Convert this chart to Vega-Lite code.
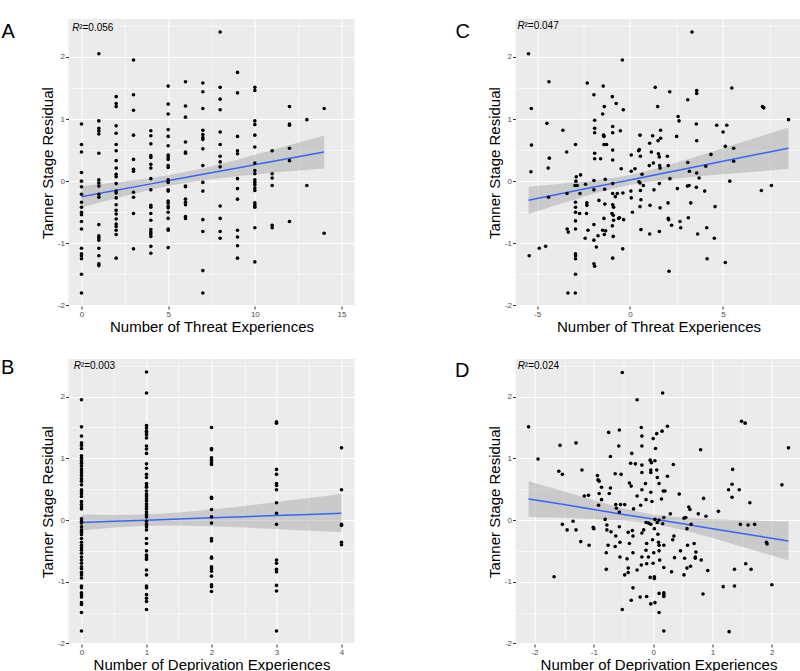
{
"$schema":"https://vega.github.io/schema/vega-lite/v6.json",
"padding":{"left":0.5,"top":19,"right":0,"bottom":0},
"background":"white",
"config":{"font":"Liberation Sans","view":{"fill":"#EBEBEB","stroke":null},
"axis":{"labelFontSize":8,"labelColor":"#4D4D4D","tickColor":"#333333","tickSize":3,"domain":false,"gridColor":"white","gridWidth":1.1,"titleFontSize":15,"titleFontWeight":"normal","titleColor":"black","labelPadding":1,"gridOpacity":1},
"circle":{"size":13,"color":"black","opacity":1}},
"columns":2,
"spacing":{"row":53,"column":161},
"bounds":"flush",
"datasets":{
"ptsA":[
{"x":0,"y":0.92},{"x":0,"y":0.59},{"x":0,"y":0.47},{"x":0,"y":0.14},{"x":0,"y":0.0},{"x":0,"y":-0.09},{"x":0,"y":-0.21},{"x":0,"y":-0.34},{"x":0,"y":-0.42},{"x":0,"y":-0.5},{"x":0,"y":-0.54},{"x":0,"y":-0.65},{"x":0,"y":-0.77},{"x":0,"y":-1.08},{"x":0,"y":-1.17},{"x":0,"y":-1.2},{"x":0,"y":-1.25},{"x":0,"y":-1.5},{"x":0,"y":-1.8},
{"x":1,"y":2.05},{"x":1,"y":0.97},{"x":1,"y":0.85},{"x":1,"y":0.81},{"x":1,"y":0.76},{"x":1,"y":0.45},{"x":1,"y":0.02},{"x":1,"y":-0.03},{"x":1,"y":-0.08},{"x":1,"y":-0.21},{"x":1,"y":-0.26},{"x":1,"y":-0.7},{"x":1,"y":-0.88},{"x":1,"y":-0.91},{"x":1,"y":-0.95},{"x":1,"y":-1.08},{"x":1,"y":-1.2},{"x":1,"y":-1.33},{"x":1,"y":-1.36},
{"x":2,"y":1.36},{"x":2,"y":1.25},{"x":2,"y":1.2},{"x":2,"y":0.89},{"x":2,"y":0.77},{"x":2,"y":0.59},{"x":2,"y":0.49},{"x":2,"y":0.33},{"x":2,"y":0.21},{"x":2,"y":0.11},{"x":2,"y":0.07},{"x":2,"y":-0.04},{"x":2,"y":-0.16},{"x":2,"y":-0.19},{"x":2,"y":-0.27},{"x":2,"y":-0.38},{"x":2,"y":-0.47},{"x":2,"y":-0.53},{"x":2,"y":-0.61},{"x":2,"y":-0.69},{"x":2,"y":-0.73},{"x":2,"y":-0.79},{"x":2,"y":-0.86},{"x":2,"y":-1.24},
{"x":3,"y":1.95},{"x":3,"y":1.39},{"x":3,"y":1.14},{"x":3,"y":0.74},{"x":3,"y":0.35},{"x":3,"y":0.19},{"x":3,"y":0.16},{"x":3,"y":-0.18},{"x":3,"y":-0.26},{"x":3,"y":-0.52},{"x":3,"y":-1.09},
{"x":4,"y":0.81},{"x":4,"y":0.73},{"x":4,"y":0.6},{"x":4,"y":0.41},{"x":4,"y":0.38},{"x":4,"y":0.27},{"x":4,"y":0.21},{"x":4,"y":0.04},{"x":4,"y":-0.14},{"x":4,"y":-0.39},{"x":4,"y":-0.42},{"x":4,"y":-0.52},{"x":4,"y":-0.63},{"x":4,"y":-0.78},{"x":4,"y":-0.82},{"x":4,"y":-0.85},{"x":4,"y":-0.89},{"x":4,"y":-1.05},{"x":4,"y":-1.16},
{"x":5,"y":1.53},{"x":5,"y":1.24},{"x":5,"y":1.08},{"x":5,"y":0.83},{"x":5,"y":0.72},{"x":5,"y":0.57},{"x":5,"y":0.42},{"x":5,"y":0.39},{"x":5,"y":0.35},{"x":5,"y":0.25},{"x":5,"y":0.22},{"x":5,"y":0.02},{"x":5,"y":-0.02},{"x":5,"y":-0.14},{"x":5,"y":-0.16},{"x":5,"y":-0.32},{"x":5,"y":-0.35},{"x":5,"y":-0.4},{"x":5,"y":-0.43},{"x":5,"y":-0.5},{"x":5,"y":-0.6},{"x":5,"y":-0.77},{"x":5,"y":-0.79},{"x":5,"y":-1.07},
{"x":6,"y":1.6},{"x":6,"y":1.21},{"x":6,"y":1.03},{"x":6,"y":0.63},{"x":6,"y":0.47},{"x":6,"y":0.45},{"x":6,"y":-0.08},{"x":6,"y":-0.09},{"x":6,"y":-0.29},{"x":6,"y":-0.34},{"x":6,"y":-0.38},{"x":6,"y":-0.57},{"x":6,"y":-0.6},
{"x":7,"y":1.58},{"x":7,"y":1.44},{"x":7,"y":1.17},{"x":7,"y":0.82},{"x":7,"y":0.75},{"x":7,"y":0.7},{"x":7,"y":0.67},{"x":7,"y":0.52},{"x":7,"y":0.25},{"x":7,"y":-0.02},{"x":7,"y":-0.16},{"x":7,"y":-0.62},{"x":7,"y":-0.81},{"x":7,"y":-1.44},{"x":7,"y":-1.8},
{"x":8,"y":2.4},{"x":8,"y":1.51},{"x":8,"y":1.32},{"x":8,"y":1.15},{"x":8,"y":0.79},{"x":8,"y":0.59},{"x":8,"y":0.4},{"x":8,"y":0.31},{"x":8,"y":0.23},{"x":8,"y":-0.4},{"x":8,"y":-0.6},{"x":8,"y":-0.81},{"x":8,"y":-0.92},
{"x":9,"y":1.75},{"x":9,"y":1.42},{"x":9,"y":0.72},{"x":9,"y":0.49},{"x":9,"y":0.44},{"x":9,"y":0.04},{"x":9,"y":-0.12},{"x":9,"y":-0.29},{"x":9,"y":-0.79},{"x":9,"y":-0.9},{"x":9,"y":-1.04},{"x":9,"y":-1.24},
{"x":10,"y":1.51},{"x":10,"y":1.46},{"x":10,"y":0.97},{"x":10,"y":0.91},{"x":10,"y":0.74},{"x":10,"y":0.55},{"x":10,"y":0.29},{"x":10,"y":0.17},{"x":10,"y":0.12},{"x":10,"y":0.02},{"x":10,"y":-0.02},{"x":10,"y":-0.06},{"x":10,"y":-0.11},{"x":10,"y":-0.15},{"x":10,"y":-0.35},{"x":10,"y":-0.39},{"x":10,"y":-0.42},{"x":10,"y":-0.75},{"x":10,"y":-1.3},
{"x":11,"y":0.49},{"x":11,"y":0.12},{"x":11,"y":0.05},{"x":11,"y":-0.07},{"x":11,"y":-0.71},{"x":11,"y":-0.75},
{"x":12,"y":1.2},{"x":12,"y":0.92},{"x":12,"y":0.9},{"x":12,"y":0.53},{"x":12,"y":0.33},{"x":12,"y":-0.65},
{"x":13,"y":0.99},{"x":13,"y":-0.07},
{"x":14,"y":1.17},{"x":14,"y":-0.84}
],
"ribA":[{"x":0,"lo":-0.42,"hi":-0.08,"fit":-0.25},{"x":2,"lo":-0.275,"hi":-0.02,"fit":-0.147},{"x":4,"lo":-0.135,"hi":0.045,"fit":-0.044},{"x":5.2,"lo":-0.065,"hi":0.105,"fit":0.017},{"x":7,"lo":0.015,"hi":0.205,"fit":0.11},{"x":9,"lo":0.08,"hi":0.346,"fit":0.213},{"x":11,"lo":0.133,"hi":0.5,"fit":0.316},{"x":12.5,"lo":0.17,"hi":0.617,"fit":0.393},{"x":14,"lo":0.205,"hi":0.735,"fit":0.47}],
"ptsC":[
{"x":-5.46,"y":2.05},{"x":-5.31,"y":1.17},{"x":-5.3,"y":0.58},{"x":-5.33,"y":0.15},{"x":-5.42,"y":-1.2},{"x":-4.88,"y":-1.08},{"x":-4.54,"y":-1.05},{"x":-4.47,"y":0.93},{"x":-4.36,"y":1.6},{"x":-4.34,"y":0.37},{"x":-4.4,"y":0.21},{"x":-4.38,"y":-0.26},{"x":-3.61,"y":0.82},{"x":-3.41,"y":0.47},{"x":-3.39,"y":-0.2},{"x":-3.38,"y":-0.77},{"x":-3.32,"y":-0.82},{"x":-3.34,"y":-1.8},{"x":-2.94,"y":-1.8},{"x":-2.93,"y":0.59},{"x":-2.89,"y":0.07},{"x":-2.91,"y":0.0},{"x":-2.96,"y":-0.07},{"x":-2.84,"y":-0.07},{"x":-2.93,"y":-0.34},{"x":-2.93,"y":-0.42},{"x":-2.93,"y":-0.5},{"x":-2.93,"y":-0.64},{"x":-2.93,"y":-0.77},{"x":-2.93,"y":-1.17},{"x":-2.93,"y":-1.2},{"x":-2.93,"y":-1.25},{"x":-2.93,"y":-1.5},{"x":-2.66,"y":0.1},{"x":-2.69,"y":-0.2},{"x":-2.71,"y":-0.52},{"x":-2.39,"y":-0.05},{"x":-2.41,"y":-0.92},{"x":-2.32,"y":-0.35},{"x":-2.32,"y":-0.39},{"x":-2.34,"y":-0.52},{"x":-2.3,"y":1.58},{"x":-2.26,"y":-0.79},{"x":-1.94,"y":1.39},{"x":-1.9,"y":0.98},{"x":-1.9,"y":0.85},{"x":-1.9,"y":0.78},{"x":-1.9,"y":0.45},{"x":-1.9,"y":0.36},{"x":-1.94,"y":0.01},{"x":-1.94,"y":-0.14},{"x":-1.94,"y":-0.7},{"x":-1.94,"y":-0.95},{"x":-1.94,"y":-1.33},{"x":-1.9,"y":-1.37},{"x":-1.81,"y":-1.06},{"x":-1.72,"y":-0.88},{"x":-1.67,"y":-0.31},{"x":-1.58,"y":0.36},{"x":-1.47,"y":1.08},{"x":-1.44,"y":1.53},{"x":-1.42,"y":0.74},{"x":-1.4,"y":0.72},{"x":-1.38,"y":1.2},{"x":-1.4,"y":0.59},{"x":-1.26,"y":0.59},{"x":-1.33,"y":0.03},{"x":-1.36,"y":-0.13},{"x":-1.35,"y":-0.37},{"x":-1.4,"y":-0.6},{"x":-1.47,"y":-0.79},{"x":-1.31,"y":-0.8},{"x":-1.38,"y":-0.86},{"x":-0.95,"y":1.36},{"x":-0.93,"y":0.88},{"x":-0.93,"y":0.78},{"x":-0.93,"y":0.5},{"x":-0.93,"y":0.34},{"x":-0.93,"y":-0.04},{"x":-0.93,"y":-0.2},{"x":-0.93,"y":-0.38},{"x":-0.88,"y":-0.42},{"x":-0.97,"y":-0.52},{"x":-0.9,"y":-0.55},{"x":-0.88,"y":-0.63},{"x":-0.95,"y":-0.72},{"x":-0.9,"y":-0.89},{"x":-0.93,"y":-1.24},{"x":-0.74,"y":1.25},{"x":-0.68,"y":-0.2},{"x":-0.61,"y":-0.6},{"x":-0.56,"y":-0.59},{"x":-0.52,"y":0.81},{"x":-0.47,"y":0.2},{"x":-0.38,"y":-0.19},{"x":-0.41,"y":1.95},{"x":-0.36,"y":1.15},{"x":-0.34,"y":-0.62},{"x":-0.39,"y":-1.09},{"x":-0.79,"y":-0.25},{"x":0.07,"y":0.42},{"x":0.07,"y":0.16},{"x":0.05,"y":-0.16},{"x":0.07,"y":-0.27},{"x":0.13,"y":-0.5},{"x":0.27,"y":0.2},{"x":0.47,"y":0.49},{"x":0.5,"y":0.51},{"x":0.54,"y":0.74},{"x":0.56,"y":0.4},{"x":0.48,"y":-0.01},{"x":0.54,"y":-0.03},{"x":0.56,"y":-0.15},{"x":0.59,"y":-0.3},{"x":0.54,"y":-0.41},{"x":0.59,"y":-0.78},{"x":0.65,"y":0.11},{"x":0.72,"y":-0.07},{"x":1.06,"y":0.61},{"x":1.15,"y":0.47},{"x":1.04,"y":0.25},{"x":1.22,"y":0.73},{"x":1.26,"y":0.29},{"x":1.29,"y":-0.14},{"x":1.08,"y":-0.39},{"x":1.06,"y":-0.85},{"x":1.36,"y":1.51},{"x":1.49,"y":1.2},{"x":1.51,"y":0.65},{"x":1.53,"y":0.44},{"x":1.58,"y":0.39},{"x":1.6,"y":0.25},{"x":1.62,"y":0.21},{"x":1.65,"y":0.82},{"x":1.65,"y":0.69},{"x":1.58,"y":-0.04},{"x":1.62,"y":-0.43},{"x":1.58,"y":-0.81},{"x":2.01,"y":0.4},{"x":2.06,"y":0.25},{"x":2.05,"y":-0.35},{"x":2.06,"y":-0.6},{"x":2.08,"y":-0.62},{"x":2.1,"y":-1.45},{"x":2.14,"y":1.44},{"x":2.15,"y":0.04},{"x":2.24,"y":-0.71},{"x":2.51,"y":0.72},{"x":2.59,"y":1.04},{"x":2.64,"y":0.97},{"x":2.55,"y":-0.12},{"x":2.69,"y":-0.65},{"x":2.73,"y":-0.75},{"x":3.11,"y":1.31},{"x":3.11,"y":0.3},{"x":3.09,"y":-0.08},{"x":3.18,"y":-0.07},{"x":3.2,"y":0.16},{"x":3.14,"y":-0.59},{"x":3.27,"y":-0.35},{"x":3.34,"y":2.4},{"x":3.59,"y":1.46},{"x":3.59,"y":1.41},{"x":3.57,"y":0.92},{"x":3.59,"y":0.65},{"x":3.59,"y":0.13},{"x":3.57,"y":-0.1},{"x":3.64,"y":-0.85},{"x":3.72,"y":0.05},{"x":4.02,"y":-0.16},{"x":4.08,"y":0.24},{"x":4.36,"y":0.43},{"x":4.13,"y":-0.75},{"x":4.15,"y":-1.25},{"x":4.58,"y":-0.41},{"x":4.54,"y":-0.92},{"x":4.67,"y":0.9},{"x":5.01,"y":0.79},{"x":5.21,"y":0.9},{"x":5.13,"y":0.56},{"x":5.37,"y":0.0},{"x":5.13,"y":-1.31},{"x":5.48,"y":1.5},{"x":5.58,"y":0.53},{"x":5.58,"y":0.32},{"x":7.13,"y":1.2},{"x":7.2,"y":1.18},{"x":7.07,"y":-0.15},{"x":7.61,"y":-0.07},{"x":8.53,"y":0.99}
],
"ribC":[{"x":-5.46,"lo":-0.53,"hi":-0.09,"fit":-0.308},{"x":-4,"lo":-0.388,"hi":-0.052,"fit":-0.22},{"x":-2,"lo":-0.208,"hi":0.008,"fit":-0.1},{"x":-1,"lo":-0.127,"hi":0.047,"fit":-0.04},{"x":0,"lo":-0.06,"hi":0.1,"fit":0.02},{"x":1,"lo":-0.01,"hi":0.17,"fit":0.08},{"x":2,"lo":0.0275,"hi":0.2525,"fit":0.14},{"x":4,"lo":0.086,"hi":0.434,"fit":0.26},{"x":6,"lo":0.136,"hi":0.624,"fit":0.38},{"x":8.53,"lo":0.195,"hi":0.865,"fit":0.53}],
"ptsB":[
{"x":0,"y":1.95},{"x":0,"y":1.51},{"x":0,"y":1.36},{"x":0,"y":1.25},{"x":0,"y":1.21},{"x":0,"y":1.16},{"x":0,"y":1.04},{"x":0,"y":1.0},{"x":0,"y":0.96},{"x":0,"y":0.92},{"x":0,"y":0.88},{"x":0,"y":0.83},{"x":0,"y":0.8},{"x":0,"y":0.76},{"x":0,"y":0.72},{"x":0,"y":0.67},{"x":0,"y":0.63},{"x":0,"y":0.57},{"x":0,"y":0.49},{"x":0,"y":0.46},{"x":0,"y":0.42},{"x":0,"y":0.38},{"x":0,"y":0.3},{"x":0,"y":0.25},{"x":0,"y":0.21},{"x":0,"y":0.18},{"x":0,"y":0.02},{"x":0,"y":-0.02},{"x":0,"y":-0.05},{"x":0,"y":-0.11},{"x":0,"y":-0.16},{"x":0,"y":-0.2},{"x":0,"y":-0.24},{"x":0,"y":-0.3},{"x":0,"y":-0.36},{"x":0,"y":-0.41},{"x":0,"y":-0.45},{"x":0,"y":-0.49},{"x":0,"y":-0.54},{"x":0,"y":-0.6},{"x":0,"y":-0.65},{"x":0,"y":-0.7},{"x":0,"y":-0.76},{"x":0,"y":-0.79},{"x":0,"y":-0.85},{"x":0,"y":-0.89},{"x":0,"y":-0.94},{"x":0,"y":-1.07},{"x":0,"y":-1.1},{"x":0,"y":-1.18},{"x":0,"y":-1.21},{"x":0,"y":-1.25},{"x":0,"y":-1.34},{"x":0,"y":-1.37},{"x":0,"y":-1.5},{"x":0,"y":-1.8},
{"x":1,"y":2.4},{"x":1,"y":2.06},{"x":1,"y":1.53},{"x":1,"y":1.49},{"x":1,"y":1.44},{"x":1,"y":1.41},{"x":1,"y":1.38},{"x":1,"y":1.33},{"x":1,"y":1.2},{"x":1,"y":1.15},{"x":1,"y":1.08},{"x":1,"y":0.91},{"x":1,"y":0.84},{"x":1,"y":0.74},{"x":1,"y":0.69},{"x":1,"y":0.59},{"x":1,"y":0.55},{"x":1,"y":0.53},{"x":1,"y":0.47},{"x":1,"y":0.42},{"x":1,"y":0.39},{"x":1,"y":0.35},{"x":1,"y":0.31},{"x":1,"y":0.26},{"x":1,"y":0.22},{"x":1,"y":0.18},{"x":1,"y":0.13},{"x":1,"y":0.09},{"x":1,"y":0.05},{"x":1,"y":-0.02},{"x":1,"y":-0.07},{"x":1,"y":-0.11},{"x":1,"y":-0.16},{"x":1,"y":-0.3},{"x":1,"y":-0.38},{"x":1,"y":-0.5},{"x":1,"y":-0.57},{"x":1,"y":-0.61},{"x":1,"y":-0.64},{"x":1,"y":-0.81},{"x":1,"y":-0.89},{"x":1,"y":-1.07},{"x":1,"y":-1.1},{"x":1,"y":-1.21},{"x":1,"y":-1.27},{"x":1,"y":-1.32},{"x":1,"y":-1.45},
{"x":2,"y":1.5},{"x":2,"y":1.16},{"x":2,"y":1.14},{"x":2,"y":1.01},{"x":2,"y":0.97},{"x":2,"y":0.93},{"x":2,"y":0.9},{"x":2,"y":0.37},{"x":2,"y":0.35},{"x":2,"y":0.17},{"x":2,"y":0.05},{"x":2,"y":-0.05},{"x":2,"y":-0.3},{"x":2,"y":-0.34},{"x":2,"y":-0.6},{"x":2,"y":-0.62},{"x":2,"y":-0.76},{"x":2,"y":-0.79},{"x":2,"y":-0.83},{"x":2,"y":-0.91},{"x":2,"y":-1.05},{"x":2,"y":-1.08},{"x":2,"y":-1.16},
{"x":3,"y":1.59},{"x":3,"y":1.57},{"x":3,"y":0.82},{"x":3,"y":0.74},{"x":3,"y":0.59},{"x":3,"y":0.56},{"x":3,"y":0.49},{"x":3,"y":0.28},{"x":3,"y":0.11},{"x":3,"y":-0.07},{"x":3,"y":-0.65},{"x":3,"y":-0.7},{"x":3,"y":-0.8},{"x":3,"y":-0.84},{"x":3,"y":-1.06},{"x":3,"y":-1.15},{"x":3,"y":-1.8},
{"x":4,"y":1.17},{"x":4,"y":0.49},{"x":4,"y":-0.07},{"x":4,"y":-0.09},{"x":4,"y":-0.36},{"x":4,"y":-0.4}
],
"ribB":[{"x":0,"lo":-0.17,"hi":0.09,"fit":-0.04},{"x":0.5,"lo":-0.12,"hi":0.08,"fit":-0.021},{"x":1,"lo":-0.093,"hi":0.088,"fit":-0.0025},{"x":1.5,"lo":-0.088,"hi":0.12,"fit":0.016},{"x":2,"lo":-0.101,"hi":0.171,"fit":0.035},{"x":2.5,"lo":-0.121,"hi":0.229,"fit":0.054},{"x":3,"lo":-0.146,"hi":0.291,"fit":0.0725},{"x":3.5,"lo":-0.173,"hi":0.355,"fit":0.091},{"x":4,"lo":-0.2,"hi":0.42,"fit":0.11}],
"ptsD":[
{"x":-2.1,"y":1.51},{"x":-1.94,"y":0.99},{"x":-1.67,"y":-0.92},{"x":-1.59,"y":0.79},{"x":-1.53,"y":0.74},{"x":-1.57,"y":1.21},{"x":-1.53,"y":-0.07},{"x":-1.45,"y":-0.16},{"x":-1.35,"y":-0.02},{"x":-1.3,"y":1.25},{"x":-1.3,"y":-0.16},{"x":-1.22,"y":-0.35},{"x":-1.2,"y":0.81},{"x":-1.16,"y":0.39},{"x":-1.09,"y":0.4},{"x":-1.08,"y":-0.41},{"x":-1.01,"y":-0.12},{"x":-1.0,"y":-0.14},{"x":-0.94,"y":0.72},{"x":-0.93,"y":0.65},{"x":-0.91,"y":0.63},{"x":-0.87,"y":0.53},{"x":-0.91,"y":0.43},{"x":-0.87,"y":0.33},{"x":-0.92,"y":0.24},{"x":-0.81,"y":0.01},{"x":-0.78,"y":-0.08},{"x":-0.78,"y":-0.16},{"x":-0.79,"y":-0.53},{"x":-0.79,"y":-0.8},{"x":-0.75,"y":1.42},{"x":-0.74,"y":0.43},{"x":-0.72,"y":0.52},{"x":-0.72,"y":1.03},{"x":-0.76,"y":-0.41},{"x":-0.71,"y":-0.19},{"x":-0.64,"y":0.75},{"x":-0.63,"y":0.25},{"x":-0.62,"y":0.19},{"x":-0.63,"y":-0.26},{"x":-0.64,"y":-0.43},{"x":-0.58,"y":1.2},{"x":-0.57,"y":1.46},{"x":-0.57,"y":0.13},{"x":-0.55,"y":0.25},{"x":-0.56,"y":-0.36},{"x":-0.56,"y":-0.6},{"x":-0.54,"y":0.74},{"x":-0.57,"y":-0.11},{"x":-0.52,"y":2.39},{"x":-0.52,"y":-1.45},{"x":-0.48,"y":0.25},{"x":-0.48,"y":-0.89},{"x":-0.44,"y":-0.63},{"x":-0.42,"y":-0.2},{"x":-0.4,"y":-0.38},{"x":-0.42,"y":-0.78},{"x":-0.42,"y":-0.85},{"x":-0.4,"y":0.6},{"x":-0.37,"y":0.55},{"x":-0.38,"y":0.92},{"x":-0.36,"y":1.08},{"x":-0.37,"y":-1.3},{"x":-0.34,"y":-1.1},{"x":-0.35,"y":-0.17},{"x":-0.34,"y":-0.26},{"x":-0.34,"y":-0.53},{"x":-0.33,"y":0.18},{"x":-0.3,"y":0.91},{"x":-0.27,"y":1.95},{"x":-0.27,"y":0.39},{"x":-0.27,"y":-0.81},{"x":-0.22,"y":-1.25},{"x":-0.21,"y":0.24},{"x":-0.2,"y":1.5},{"x":-0.19,"y":1.36},{"x":-0.19,"y":1.2},{"x":-0.19,"y":0.89},{"x":-0.19,"y":0.77},{"x":-0.19,"y":0.49},{"x":-0.19,"y":-0.21},{"x":-0.19,"y":-0.6},{"x":-0.2,"y":-0.73},{"x":-0.16,"y":-0.16},{"x":-0.13,"y":0.59},{"x":-0.12,"y":0.33},{"x":-0.12,"y":-0.04},{"x":-0.11,"y":-0.38},{"x":-0.12,"y":-0.49},{"x":-0.11,"y":-0.71},{"x":-0.11,"y":-1.24},{"x":-0.08,"y":-0.05},{"x":-0.08,"y":-0.6},{"x":-0.04,"y":0.77},{"x":-0.04,"y":0.81},{"x":-0.05,"y":0.97},{"x":-0.03,"y":0.93},{"x":-0.04,"y":0.45},{"x":-0.04,"y":-0.07},{"x":-0.05,"y":-0.93},{"x":-0.04,"y":-1.36},{"x":-0.02,"y":0.3},{"x":0.0,"y":1.32},{"x":-0.01,"y":-0.32},{"x":0.01,"y":-0.53},{"x":0.0,"y":-0.7},{"x":0.02,"y":-0.92},{"x":0.02,"y":-0.95},{"x":0.03,"y":0.96},{"x":0.03,"y":0.01},{"x":0.02,"y":-0.14},{"x":0.04,"y":1.16},{"x":0.03,"y":-1.34},{"x":0.06,"y":0.81},{"x":0.06,"y":1.4},{"x":0.07,"y":0.69},{"x":0.07,"y":-0.04},{"x":0.08,"y":-0.23},{"x":0.09,"y":-0.36},{"x":0.1,"y":0.59},{"x":0.1,"y":0.0},{"x":0.1,"y":-0.41},{"x":0.1,"y":-0.5},{"x":0.11,"y":-0.65},{"x":0.1,"y":-1.19},{"x":0.1,"y":-1.5},{"x":0.15,"y":1.44},{"x":0.14,"y":0.34},{"x":0.16,"y":2.06},{"x":0.17,"y":0.47},{"x":0.16,"y":-0.06},{"x":0.18,"y":0.04},{"x":0.18,"y":-0.41},{"x":0.18,"y":-0.77},{"x":0.18,"y":-1.18},{"x":0.18,"y":-1.21},{"x":0.18,"y":-1.24},{"x":0.18,"y":-1.8},{"x":0.2,"y":0.47},{"x":0.24,"y":1.52},{"x":0.24,"y":0.71},{"x":0.29,"y":0.1},{"x":0.33,"y":-0.32},{"x":0.31,"y":-0.84},{"x":0.34,"y":0.9},{"x":0.35,"y":-0.26},{"x":0.36,"y":-0.61},{"x":0.44,"y":0.42},{"x":0.46,"y":-0.5},{"x":0.52,"y":0.03},{"x":0.55,"y":0.04},{"x":0.53,"y":-0.62},{"x":0.52,"y":-0.89},{"x":0.57,"y":-0.14},{"x":0.58,"y":-0.41},{"x":0.57,"y":-0.78},{"x":0.6,"y":0.21},{"x":0.62,"y":0.17},{"x":0.63,"y":-0.75},{"x":0.64,"y":-0.07},{"x":0.69,"y":-0.38},{"x":0.71,"y":-0.6},{"x":0.71,"y":-0.62},{"x":0.72,"y":-0.52},{"x":0.76,"y":0.1},{"x":0.8,"y":1.14},{"x":0.81,"y":-0.65},{"x":0.84,"y":-1.2},{"x":0.85,"y":0.35},{"x":0.89,"y":0.06},{"x":0.92,"y":-0.82},{"x":1.1,"y":0.14},{"x":1.18,"y":-1.08},{"x":1.27,"y":0.49},{"x":1.28,"y":-1.81},{"x":1.33,"y":0.58},{"x":1.33,"y":0.37},{"x":1.34,"y":0.82},{"x":1.37,"y":-0.8},{"x":1.37,"y":-1.07},{"x":1.45,"y":0.49},{"x":1.47,"y":-0.07},{"x":1.49,"y":1.6},{"x":1.55,"y":1.57},{"x":1.56,"y":-0.71},{"x":1.6,"y":-0.08},{"x":1.63,"y":0.28},{"x":1.65,"y":-0.8},{"x":1.71,"y":-0.07},{"x":1.91,"y":-0.36},{"x":1.92,"y":-0.39},{"x":2.0,"y":-1.05},{"x":2.17,"y":0.57},{"x":2.28,"y":1.17}
],
"ribD":[{"x":-2.1,"lo":0.05,"hi":0.63,"fit":0.34},{"x":-1.5,"lo":0.035,"hi":0.464,"fit":0.2495},{"x":-1,"lo":0.016,"hi":0.321,"fit":0.1685},{"x":-0.5,"lo":-0.007,"hi":0.188,"fit":0.0905},{"x":0,"lo":-0.055,"hi":0.086,"fit":0.0155},{"x":0.5,"lo":-0.16,"hi":0.035,"fit":-0.0625},{"x":1,"lo":-0.293,"hi":0.012,"fit":-0.1405},{"x":1.5,"lo":-0.433,"hi":-0.004,"fit":-0.2185},{"x":2.28,"lo":-0.655,"hi":-0.025,"fit":-0.34}]
},
"concat":[
{"width":286,"height":287,
"resolve":{"axis":{"x":"independent","y":"independent"}},
"layer":[
{"data":{"name":"ribA"},"mark":{"type":"area","color":"#999999","opacity":0.4},
"encoding":{"x":{"field":"x","type":"quantitative","scale":{"domain":[-0.75,15.75],"nice":false,"zero":false},"axis":{"orient":"top","values":[2.5,7.5,12.5],"grid":true,"gridWidth":0.5,"labels":false,"ticks":false,"title":null,"domain":false}},
"y":{"field":"lo","type":"quantitative","scale":{"domain":[-2.01,2.61],"nice":false,"zero":false},"axis":{"orient":"right","values":[-1.5,-0.5,0.5,1.5,2.5],"grid":true,"gridWidth":0.5,"labels":false,"ticks":false,"title":null,"domain":false}},"y2":{"field":"hi"}}},
{"data":{"name":"ribA"},"mark":{"type":"line","color":"#3366FF","strokeWidth":1.5},
"encoding":{"x":{"field":"x","type":"quantitative","scale":{"domain":[-0.75,15.75],"nice":false,"zero":false},"axis":null},"y":{"field":"fit","type":"quantitative","scale":{"domain":[-2.01,2.61],"nice":false,"zero":false},"axis":null}}},
{"data":{"name":"ptsA"},"mark":{"type":"circle"},
"encoding":{"x":{"field":"x","type":"quantitative","scale":{"domain":[-0.75,15.75],"nice":false,"zero":false},"axis":{"values":[0,5,10,15],"title":"Number of Threat Experiences","grid":true,"labelExpr":"''+datum.value","titlePadding":1}},
"y":{"field":"y","type":"quantitative","scale":{"domain":[-2.01,2.61],"nice":false,"zero":false},"axis":{"values":[-2,-1,0,1,2],"title":"Tanner Stage Residual","grid":true,"labelExpr":"''+datum.value","titlePadding":2}}}},
{"data":{"values":[{}]},"mark":{"type":"text","text":"R","fontStyle":"italic","fontSize":10,"align":"left","baseline":"middle","color":"black"},
"encoding":{"x":{"datum":-0.537,"type":"quantitative","scale":{"domain":[-0.75,15.75],"nice":false,"zero":false},"axis":null},"y":{"datum":2.473,"type":"quantitative","scale":{"domain":[-2.01,2.61],"nice":false,"zero":false},"axis":null}}},
{"data":{"values":[{}]},"mark":{"type":"text","text":"²=0.056","fontSize":10,"align":"left","baseline":"middle","color":"black","dx":7},
"encoding":{"x":{"datum":-0.537,"type":"quantitative","scale":{"domain":[-0.75,15.75],"nice":false,"zero":false},"axis":null},"y":{"datum":2.473,"type":"quantitative","scale":{"domain":[-2.01,2.61],"nice":false,"zero":false},"axis":null}}},
{"data":{"values":[{}]},"mark":{"type":"text","text":"A","fontSize":20,"align":"left","baseline":"alphabetic","color":"black"},
"encoding":{"x":{"datum":-4.615,"type":"quantitative","scale":{"domain":[-0.75,15.75],"nice":false,"zero":false},"axis":null},"y":{"datum":2.309,"type":"quantitative","scale":{"domain":[-2.01,2.61],"nice":false,"zero":false},"axis":null}}}
]},
{"width":286,"height":287,
"resolve":{"axis":{"x":"independent","y":"independent"}},
"layer":[
{"data":{"name":"ribC"},"mark":{"type":"area","color":"#999999","opacity":0.4},
"encoding":{"x":{"field":"x","type":"quantitative","scale":{"domain":[-6.16,9.23],"nice":false,"zero":false},"axis":{"orient":"top","values":[-2.5,2.5,7.5],"grid":true,"gridWidth":0.5,"labels":false,"ticks":false,"title":null,"domain":false}},
"y":{"field":"lo","type":"quantitative","scale":{"domain":[-2.01,2.61],"nice":false,"zero":false},"axis":{"orient":"right","values":[-1.5,-0.5,0.5,1.5,2.5],"grid":true,"gridWidth":0.5,"labels":false,"ticks":false,"title":null,"domain":false}},"y2":{"field":"hi"}}},
{"data":{"name":"ribC"},"mark":{"type":"line","color":"#3366FF","strokeWidth":1.5},
"encoding":{"x":{"field":"x","type":"quantitative","scale":{"domain":[-6.16,9.23],"nice":false,"zero":false},"axis":null},"y":{"field":"fit","type":"quantitative","scale":{"domain":[-2.01,2.61],"nice":false,"zero":false},"axis":null}}},
{"data":{"name":"ptsC"},"mark":{"type":"circle"},
"encoding":{"x":{"field":"x","type":"quantitative","scale":{"domain":[-6.16,9.23],"nice":false,"zero":false},"axis":{"values":[-5,0,5],"title":"Number of Threat Experiences","grid":true,"labelExpr":"''+datum.value","titlePadding":1}},
"y":{"field":"y","type":"quantitative","scale":{"domain":[-2.01,2.61],"nice":false,"zero":false},"axis":{"values":[-2,-1,0,1,2],"title":"Tanner Stage Residual","grid":true,"labelExpr":"''+datum.value","titlePadding":2}}}},
{"data":{"values":[{}]},"mark":{"type":"text","text":"R","fontStyle":"italic","fontSize":10,"align":"left","baseline":"middle","color":"black"},
"encoding":{"x":{"datum":-6.05,"type":"quantitative","scale":{"domain":[-6.16,9.23],"nice":false,"zero":false},"axis":null},"y":{"datum":2.497,"type":"quantitative","scale":{"domain":[-2.01,2.61],"nice":false,"zero":false},"axis":null}}},
{"data":{"values":[{}]},"mark":{"type":"text","text":"²=0.047","fontSize":10,"align":"left","baseline":"middle","color":"black","dx":7},
"encoding":{"x":{"datum":-6.05,"type":"quantitative","scale":{"domain":[-6.16,9.23],"nice":false,"zero":false},"axis":null},"y":{"datum":2.497,"type":"quantitative","scale":{"domain":[-2.01,2.61],"nice":false,"zero":false},"axis":null}}},
{"data":{"values":[{}]},"mark":{"type":"text","text":"C","fontSize":20,"align":"left","baseline":"alphabetic","color":"black"},
"encoding":{"x":{"datum":-9.389,"type":"quantitative","scale":{"domain":[-6.16,9.23],"nice":false,"zero":false},"axis":null},"y":{"datum":2.30,"type":"quantitative","scale":{"domain":[-2.01,2.61],"nice":false,"zero":false},"axis":null}}}
]},
{"width":286,"height":285,
"resolve":{"axis":{"x":"independent","y":"independent"}},
"layer":[
{"data":{"name":"ribB"},"mark":{"type":"area","color":"#999999","opacity":0.4},
"encoding":{"x":{"field":"x","type":"quantitative","scale":{"domain":[-0.2,4.2],"nice":false,"zero":false},"axis":{"orient":"top","values":[0.5,1.5,2.5,3.5],"grid":true,"gridWidth":0.5,"labels":false,"ticks":false,"title":null,"domain":false}},
"y":{"field":"lo","type":"quantitative","scale":{"domain":[-2.01,2.61],"nice":false,"zero":false},"axis":{"orient":"right","values":[-1.5,-0.5,0.5,1.5,2.5],"grid":true,"gridWidth":0.5,"labels":false,"ticks":false,"title":null,"domain":false}},"y2":{"field":"hi"}}},
{"data":{"name":"ribB"},"mark":{"type":"line","color":"#3366FF","strokeWidth":1.5},
"encoding":{"x":{"field":"x","type":"quantitative","scale":{"domain":[-0.2,4.2],"nice":false,"zero":false},"axis":null},"y":{"field":"fit","type":"quantitative","scale":{"domain":[-2.01,2.61],"nice":false,"zero":false},"axis":null}}},
{"data":{"name":"ptsB"},"mark":{"type":"circle"},
"encoding":{"x":{"field":"x","type":"quantitative","scale":{"domain":[-0.2,4.2],"nice":false,"zero":false},"axis":{"values":[0,1,2,3,4],"title":"Number of Deprivation Experiences","grid":true,"labelExpr":"''+datum.value","titlePadding":1}},
"y":{"field":"y","type":"quantitative","scale":{"domain":[-2.01,2.61],"nice":false,"zero":false},"axis":{"values":[-2,-1,0,1,2],"title":"Tanner Stage Residual","grid":true,"labelExpr":"''+datum.value","titlePadding":2}}}},
{"data":{"values":[{}]},"mark":{"type":"text","text":"R","fontStyle":"italic","fontSize":10,"align":"left","baseline":"middle","color":"black"},
"encoding":{"x":{"datum":-0.118,"type":"quantitative","scale":{"domain":[-0.2,4.2],"nice":false,"zero":false},"axis":null},"y":{"datum":2.504,"type":"quantitative","scale":{"domain":[-2.01,2.61],"nice":false,"zero":false},"axis":null}}},
{"data":{"values":[{}]},"mark":{"type":"text","text":"²=0.003","fontSize":10,"align":"left","baseline":"middle","color":"black","dx":7},
"encoding":{"x":{"datum":-0.118,"type":"quantitative","scale":{"domain":[-0.2,4.2],"nice":false,"zero":false},"axis":null},"y":{"datum":2.504,"type":"quantitative","scale":{"domain":[-2.01,2.61],"nice":false,"zero":false},"axis":null}}},
{"data":{"values":[{}]},"mark":{"type":"text","text":"B","fontSize":20,"align":"left","baseline":"alphabetic","color":"black"},
"encoding":{"x":{"datum":-1.238,"type":"quantitative","scale":{"domain":[-0.2,4.2],"nice":false,"zero":false},"axis":null},"y":{"datum":2.367,"type":"quantitative","scale":{"domain":[-2.01,2.61],"nice":false,"zero":false},"axis":null}}}
]},
{"width":286,"height":285,
"resolve":{"axis":{"x":"independent","y":"independent"}},
"layer":[
{"data":{"name":"ribD"},"mark":{"type":"area","color":"#999999","opacity":0.4},
"encoding":{"x":{"field":"x","type":"quantitative","scale":{"domain":[-2.32,2.5],"nice":false,"zero":false},"axis":{"orient":"top","values":[-1.5,-0.5,0.5,1.5],"grid":true,"gridWidth":0.5,"labels":false,"ticks":false,"title":null,"domain":false}},
"y":{"field":"lo","type":"quantitative","scale":{"domain":[-2.01,2.61],"nice":false,"zero":false},"axis":{"orient":"right","values":[-1.5,-0.5,0.5,1.5,2.5],"grid":true,"gridWidth":0.5,"labels":false,"ticks":false,"title":null,"domain":false}},"y2":{"field":"hi"}}},
{"data":{"name":"ribD"},"mark":{"type":"line","color":"#3366FF","strokeWidth":1.5},
"encoding":{"x":{"field":"x","type":"quantitative","scale":{"domain":[-2.32,2.5],"nice":false,"zero":false},"axis":null},"y":{"field":"fit","type":"quantitative","scale":{"domain":[-2.01,2.61],"nice":false,"zero":false},"axis":null}}},
{"data":{"name":"ptsD"},"mark":{"type":"circle"},
"encoding":{"x":{"field":"x","type":"quantitative","scale":{"domain":[-2.32,2.5],"nice":false,"zero":false},"axis":{"values":[-2,-1,0,1,2],"title":"Number of Deprivation Experiences","grid":true,"labelExpr":"''+datum.value","titlePadding":1}},
"y":{"field":"y","type":"quantitative","scale":{"domain":[-2.01,2.61],"nice":false,"zero":false},"axis":{"values":[-2,-1,0,1,2],"title":"Tanner Stage Residual","grid":true,"labelExpr":"''+datum.value","titlePadding":2}}}},
{"data":{"values":[{}]},"mark":{"type":"text","text":"R","fontStyle":"italic","fontSize":10,"align":"left","baseline":"middle","color":"black"},
"encoding":{"x":{"datum":-2.281,"type":"quantitative","scale":{"domain":[-2.32,2.5],"nice":false,"zero":false},"axis":null},"y":{"datum":2.504,"type":"quantitative","scale":{"domain":[-2.01,2.61],"nice":false,"zero":false},"axis":null}}},
{"data":{"values":[{}]},"mark":{"type":"text","text":"²=0.024","fontSize":10,"align":"left","baseline":"middle","color":"black","dx":7},
"encoding":{"x":{"datum":-2.281,"type":"quantitative","scale":{"domain":[-2.32,2.5],"nice":false,"zero":false},"axis":null},"y":{"datum":2.504,"type":"quantitative","scale":{"domain":[-2.01,2.61],"nice":false,"zero":false},"axis":null}}},
{"data":{"values":[{}]},"mark":{"type":"text","text":"D","fontSize":20,"align":"left","baseline":"alphabetic","color":"black"},
"encoding":{"x":{"datum":-3.34,"type":"quantitative","scale":{"domain":[-2.32,2.5],"nice":false,"zero":false},"axis":null},"y":{"datum":2.323,"type":"quantitative","scale":{"domain":[-2.01,2.61],"nice":false,"zero":false},"axis":null}}}
]}
]
}
